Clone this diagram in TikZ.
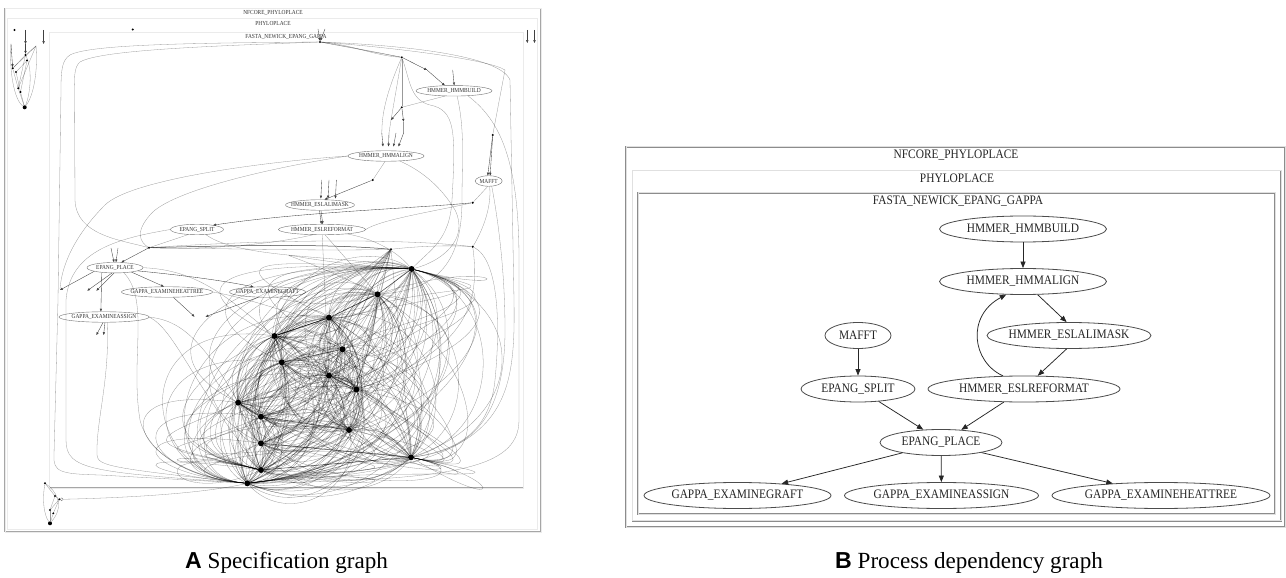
\documentclass[tikz,border=0pt]{standalone}
\usepackage{fontspec}
\setmainfont{Liberation Serif}
\newfontfamily\capsans{Liberation Sans}
\newfontfamily\capserif{Liberation Serif}
\usetikzlibrary{shapes.geometric,arrows.meta}
\newcommand{\nx}[1]{\scalebox{0.88}[1]{#1}}
\begin{document}
\begin{tikzpicture}[x=1bp,y=-1bp,
  frameB/.style={draw=black!45, line width=0.55bp, double=black!12, double distance=0.6bp},
  frameA/.style={draw=black!35, line width=0.45bp, double=black!8, double distance=0.4bp},
  procB/.style={ellipse, draw=black!70, line width=0.8bp, inner sep=0pt, minimum height=26bp, font=\fontsize{13}{15}\selectfont, text=black!85},
  procA/.style={ellipse, draw=black!55, line width=0.4bp, inner ysep=0pt, inner xsep=-5bp, minimum height=10.5bp, font=\fontsize{6.2}{7}\selectfont, text=black!80},
  lblB/.style={font=\fontsize{13}{15}\selectfont, text=black!85, inner sep=0pt},
  lblA/.style={font=\fontsize{6.2}{7}\selectfont, text=black!80, inner sep=0pt},
  arrB/.style={-{Triangle[length=6.5bp,width=5bp]}, line width=0.75bp, draw=black!85},
  arrA/.style={-{Triangle[length=2.8bp,width=2.2bp]}, line width=0.35bp, draw=black!75},
  bigdot/.style={circle, fill=black, inner sep=0pt, minimum size=6bp},
  smdot/.style={circle, fill=black, inner sep=0pt, minimum size=2.2bp},
  wire/.style={line width=0.3bp, draw=black, draw opacity=0.4},
  wireB/.style={line width=0.5bp, draw=black, draw opacity=0.75},
  capfont/.style={font=\fontsize{23.2}{27}\selectfont, inner sep=0pt, anchor=base west},
]
\useasboundingbox (0,0) rectangle (1286,578);
\fill[white] (0,0) rectangle (1286,578);

% ================= PANEL B =================
\draw[frameB] (626,146.7) rectangle (1285,527);
\draw[frameB] (632.5,170.5) rectangle (1281,520.7);
\draw[frameB] (638.3,192.7) rectangle (1275.3,514);
\node[lblB] (bNF) at (956,155.5) {\nx{NFCORE\_PHYLOPLACE}};
\node[lblB] (bPH) at (957,178.5) {\nx{PHYLOPLACE}};
\node[lblB] (bFA) at (958,201.5) {\nx{FASTA\_NEWICK\_EPANG\_GAPPA}};

\node[procB, minimum width=167bp] (hb) at (1023,229) {\nx{HMMER\_HMMBUILD}};
\node[procB, minimum width=167bp] (ha) at (1023,281.5) {\nx{HMMER\_HMMALIGN}};
\node[procB, minimum width=66bp] (mf) at (858,335.5) {\nx{MAFFT}};
\node[procB, minimum width=164bp, inner xsep=-3.5bp] (am) at (1069,335.5) {\nx{HMMER\_ESLALIMASK}};
\node[procB, minimum width=114bp] (sp) at (858,389) {\nx{EPANG\_SPLIT}};
\node[procB, minimum width=192bp] (rf) at (1024,389) {\nx{HMMER\_ESLREFORMAT}};
\node[procB, minimum width=122bp] (pl) at (941,442.5) {\nx{EPANG\_PLACE}};
\node[procB, minimum width=187bp] (gr) at (737.5,495.5) {\nx{GAPPA\_EXAMINEGRAFT}};
\node[procB, minimum width=194bp] (as) at (941.5,495.5) {\nx{GAPPA\_EXAMINEASSIGN}};
\node[procB, minimum width=218bp] (ht) at (1161,495.5) {\nx{GAPPA\_EXAMINEHEATTREE}};

\draw[arrB] (hb) -- (ha);
\draw[arrB] (ha.-42) -- (am.100);
\draw[arrB] (rf.148) .. controls (972,362) and (966,316) .. (ha.-142);
\draw[arrB] (am.-100) -- (rf.44);
\draw[arrB] (mf) -- (sp);
\draw[arrB] (sp.-31) -- (pl.144);
\draw[arrB] (rf.-147) -- (pl.32);
\draw[arrB] (pl.-165) -- (gr.15);
\draw[arrB] (pl) -- (as);
\draw[arrB] (pl.-14) -- (ht.166);

\node[capfont] (capB) at (835,568) {{\capsans\bfseries B}\capserif\mdseries{} Process dependency graph};

% ================= PANEL A =================
\draw[frameA] (5,8.3) rectangle (540.7,531.7);
\draw[frameA] (7.5,18.3) rectangle (537.5,529.3);
\draw[frameA] (49.5,32.3) rectangle (523.5,488);
\node[lblA] (aNF) at (273,13) {\nx{NFCORE\_PHYLOPLACE}};
\node[lblA] (aPH) at (273,23.3) {\nx{PHYLOPLACE}};
\node[lblA] (aFA) at (286,37.3) {\nx{FASTA\_NEWICK\_EPANG\_GAPPA}};

\node[procA, minimum width=76bp] (Ahb) at (454,90.8) {\nx{HMMER\_HMMBUILD}};
\node[procA, minimum width=76bp] (Aha) at (386,156) {\nx{HMMER\_HMMALIGN}};
\node[procA, minimum width=27bp] (Amf) at (488.7,181) {\nx{MAFFT}};
\node[procA, minimum width=69bp] (Aam) at (320,205) {\nx{HMMER\_ESLALIMASK}};
\node[procA, minimum width=53bp] (Asp) at (197,229.5) {\nx{EPANG\_SPLIT}};
\node[procA, minimum width=87bp] (Arf) at (322,229.5) {\nx{HMMER\_ESLREFORMAT}};
\node[procA, minimum width=56bp] (Apl) at (115,267.7) {\nx{EPANG\_PLACE}};
\node[procA, minimum width=91bp] (Aht) at (167,292) {\nx{GAPPA\_EXAMINEHEATTREE}};
\node[procA, minimum width=76bp] (Agr) at (267.5,292) {\nx{GAPPA\_EXAMINEGRAFT}};
\node[procA, minimum width=90bp] (Aas) at (104,317) {\nx{GAPPA\_EXAMINEASSIGN}};

% small points
\node[smdot] (T) at (320,42) {};
\node[smdot] (R1) at (401.8,57.3) {};
\node[smdot] (R2) at (401.8,107.3) {};
\node[smdot] (R3) at (372.7,180) {};
\node[smdot] (R4) at (492.7,135) {};
\node[smdot] (R5) at (472.7,202.7) {};
\node[smdot] (R6) at (472.7,246.7) {};
\node[smdot] (L1) at (149,247.7) {};
\node[smdot] (F) at (391,249.3) {};
\node[smdot] (tdot) at (132.7,29.5) {};
\node[smdot] (tl0) at (14.5,30) {};

% cluster dots
\node[bigdot] (c1) at (411.6,269) {};
\node[bigdot] (c2) at (377.5,294.3) {};
\node[bigdot] (c3) at (329,317.7) {};
\node[bigdot] (c4) at (274.5,336) {};
\node[bigdot] (c5) at (342.5,349.3) {};
\node[bigdot] (c6) at (281.8,362.3) {};
\node[bigdot] (c7) at (329,375.7) {};
\node[bigdot] (c8) at (356.4,389.5) {};
\node[bigdot] (c9) at (238.2,402.7) {};
\node[bigdot] (c10) at (261,416.7) {};
\node[bigdot] (c11) at (349,430) {};
\node[bigdot] (c12) at (261,443.3) {};
\node[bigdot] (c13) at (411,457.3) {};
\node[bigdot] (c14) at (261,470) {};
\node[bigdot] (c15) at (247.3,483.3) {};

% dense tangle
\foreach \i in {1,...,15}{
  \foreach \j in {1,...,15}{
    \ifnum\i<\j
      \draw[wire] (c\i) to[bend left=30] (c\j);
      \draw[wire] (c\i) to[bend right=58] (c\j);
      \ifnum\numexpr\j-\i\relax>3
        \draw[wire] (c\i) to[bend left=75, looseness=1.3] (c\j);
      \fi
    \fi
  }
}
\foreach \i in {1,...,14}{
  \draw[wire] (c\i) .. controls +(-150,-20) and +(-110,-10) .. (c15);
  \draw[wire] (c\i) .. controls +(150,30) and +(170,-20) .. (c15);
  \draw[wire] (c\i) .. controls +(-90,40) and +(-130,-30) .. (c14);
}
\foreach \i in {2,...,13}{
  \draw[wire] (c\i) .. controls +(-120,-60) and +(-160,-10) .. (c1);
  \draw[wire] (c\i) .. controls +(100,60) and +(90,20) .. (c13);
  \draw[wire] (c\i) .. controls +(120,-40) and +(120,30) .. (c1);
}
\foreach \i in {2,...,14}{ \draw[wire] (F) -- (c\i); }
\draw[wireB] (c3) -- (c4); \draw[wireB] (c5) -- (c6); \draw[wireB] (c7) -- (c8); \draw[wireB] (c9) -- (c10);
\draw[wireB] (c1) -- (c2) -- (c3) -- (c4);
\draw[wireB] (c10) -- (c11); \draw[wireB] (c12) -- (c13); \draw[wireB] (c14) -- (c13);

% horizontal trunk at y ~ 248
\draw[wireB] (L1) .. controls (250,245) and (330,244) .. (F);
\draw[wire] (L1) .. controls (250,249) and (330,251) .. (F);
\draw[wire] (F) .. controls (420,246) and (450,245) .. (R6);
\draw[wire] (L1) .. controls (260,240) and (400,238) .. (R6);

% top structure
\draw[wire] (T) -- (R1);
\draw[wire] (T) .. controls (350,47) and (375,52) .. (R1);
\draw[wire] (T) .. controls (350,44) and (375,56) .. (R1);
\coordinate (s427) at (427,70);
\coordinate (s453) at (452.7,70);
\coordinate (s318) at (318,29);
\coordinate (s325) at (325,29);
\draw[arrA] (s318) -- (T);
\draw[arrA] (s325) -- (T);
\draw[arrA] (R1) -- (s427);
\draw[arrA] (s427) -- (Ahb.150);
\draw[arrA] (s453) -- (Ahb.88);
\draw[wire] (R1) -- (R2);
\draw[wire] (Ahb.-150) -- (R2);
\coordinate (s391) at (391,120);
\coordinate (s404) at (403.6,121.7);
\draw[arrA] (R2) -- (s391);
\draw[arrA] (R2) -- (s404);
\draw[wire] (R1) -- (s391);
\draw[wire] (R1) .. controls (383,100) and (382,120) .. (381.8,133);
\coordinate (up1) at (381.8,133); \coordinate (dn1) at (383,146.5);
\coordinate (up2) at (389,133);   \coordinate (dn2) at (388.5,146.5);
\coordinate (up3) at (396,133);   \coordinate (dn3) at (393.5,146.5);
\coordinate (up4) at (403.6,133); \coordinate (dn4) at (398.5,146.5);
\foreach \k in {1,2,3,4}{ \draw[arrA] (up\k) -- (dn\k); }
\draw[wire] (s404) -- (up4);
\draw[wire] (s391) -- (up2);
\draw[wire] (R1) .. controls (410,80) and (410,100) .. (430,105) .. controls (455,110) and (456,130) .. (452,200) .. controls (450,240) and (430,250) .. (c1);
\draw[wire] (Aha.-20) .. controls (420,170) and (440,185) .. (455,210) .. controls (470,240) and (440,262) .. (c1);
\draw[wire] (Ahb.-60) .. controls (465,130) and (462,160) .. (462,200) .. controls (462,260) and (440,290) .. (c2);
\draw[wire] (Aha.-100) -- (R3);
\draw[arrA] (R3) -- (Aam.50);
\coordinate (ua1) at (321.8,180); \coordinate (va1) at (320.8,198.5);
\coordinate (ua2) at (329,180);   \coordinate (va2) at (328,198.5);
\coordinate (ua3) at (336.4,180); \coordinate (va3) at (335.4,198.5);
\foreach \k in {1,2,3}{ \draw[arrA] (ua\k) -- (va\k); }
\draw[arrA] (Aam.-95) -- (Arf.97);
\draw[arrA] (Aam.-80) -- (Arf.82);
% HMMALIGN long curves to left
\draw[wire] (Aha.west) .. controls (260,162) and (130,180) .. (105,205) .. controls (80,230) and (62,260) .. (60,289);
\draw[wire] (Aha.west) .. controls (280,166) and (170,190) .. (150,215) .. controls (135,232) and (140,242) .. (L1);

% right side
\coordinate (rtop) at (505,70);
\draw[wire] (T) .. controls (400,48) and (490,60) .. (rtop) -- (R4);
\draw[wire] (T) .. controls (400,45) and (500,55) .. (510,80) -- (514,300) .. controls (516,420) and (500,470) .. (c15);
\draw[arrA] (R4) -- (Amf.100);
\draw[arrA] (R4) -- (Amf.75);
\draw[wire] (Amf.-100) -- (R5);
\draw[arrA] (R5) .. controls (420,208) and (300,212) .. (Asp.15);
\draw[wire] (R5) .. controls (430,212) and (380,220) .. (Arf.east);
\draw[wire] (Amf.-80) .. controls (492,210) and (480,235) .. (R6);
\draw[wire] (Amf.-60) .. controls (500,230) and (505,280) .. (505,330) .. controls (505,420) and (470,450) .. (c13);
\draw[wire] (R6) .. controls (500,260) and (500,330) .. (495,380) .. controls (490,430) and (460,450) .. (c13);
\draw[wire] (R6) .. controls (480,300) and (470,350) .. (c8);
\draw[wire] (Ahb.-20) .. controls (500,120) and (519,160) .. (519,260) -- (519,420) .. controls (519,470) and (450,480) .. (c15);

% left side loops
\draw[wire] (T) .. controls (200,43) and (90,44) .. (70,55) .. controls (62,60) and (61,70) .. (61,90) -- (58,300) -- (54,455) .. controls (53,472) and (60,474) .. (100,475) -- (c15);
\draw[wire] (T) .. controls (210,46) and (100,50) .. (80,62) .. controls (75,66) and (74,75) .. (74.5,90) -- (75,200) .. controls (76,235) and (120,240) .. (L1);
\draw[wire] (Asp.west) .. controls (120,238) and (70,250) .. (66,300) -- (66,440) .. controls (66,470) and (90,472) .. (c15);
\draw[wire] (Aas.-60) .. controls (110,380) and (96,420) .. (97,455) .. controls (98,466) and (110,468) .. (c15);
\draw[wire] (Aas.east) .. controls (170,320) and (195,325) .. (c9);
\draw[wire] (Aas.east) .. controls (175,330) and (190,380) .. (c14);
\draw[wire] (Apl.east) .. controls (200,270) and (230,300) .. (c4);
\draw[wire] (Apl.-30) .. controls (150,300) and (130,360) .. (140,420) .. controls (150,460) and (200,480) .. (c15);
\draw[wire] (Asp.-30) .. controls (240,260) and (350,255) .. (c1);
\draw[wire] (Arf.-60) -- (c2);
\draw[wire] (Arf.-88) -- (c7);
\draw[wire] (Arf.-10) .. controls (380,240) and (400,255) .. (c1);
\draw[wire] (Arf.-150) .. controls (270,245) and (200,250) .. (L1);
\draw[wire] (Asp.-150) -- (L1);
\draw[wire] (Agr.-30) .. controls (320,310) and (360,300) .. (c2);
\draw[wire] (Aht.east) .. controls (260,300) and (300,320) .. (c3);

% EPANG_PLACE stubs
\coordinate (sA1) at (111,248);
\coordinate (sA2) at (118,248);
\draw[arrA] (L1) -- (Apl.40);
\draw[arrA] (sA1) -- (Apl.100);
\draw[arrA] (sA2) -- (Apl.80);
\coordinate (e1) at (60,290);
\coordinate (e2) at (87.3,290.7);
\coordinate (e3) at (96.4,290.7);
\draw[arrA] (Apl.-170) -- (e1);
\draw[arrA] (Apl.-120) -- (e2);
\draw[arrA] (Apl.-100) -- (e3);
\draw[arrA] (Apl.-160) -- (Aas.120);
\draw[arrA] (Apl.-15) -- (Aht.120);
\draw[arrA] (Apl.-8) .. controls (180,275) and (220,280) .. (Agr.160);
\coordinate (g1) at (194.5,316.7);
\coordinate (g2) at (205.5,316.7);
\draw[arrA] (Aht.-40) -- (g1);
\draw[arrA] (Agr.-150) -- (g2);
\coordinate (h1) at (96.4,335);
\coordinate (h2) at (103.6,335);
\draw[arrA] (Aas.-100) -- (h1);
\draw[arrA] (Aas.-80) -- (h2);

% top-left mini cluster
\node[smdot] (a1) at (25.5,55) {};
\node[smdot] (a2) at (27,60.5) {};
\node[smdot] (a3) at (12.7,68.3) {};
\node[smdot] (a4) at (16,72) {};
\node[smdot] (a5) at (18.2,88.3) {};
\node[smdot] (a6) at (20.5,92) {};
\node[bigdot, minimum size=4bp] (a7) at (24.7,107.3) {};
\coordinate (k1) at (25.5,30);
\coordinate (k1e) at (25.5,44);
\coordinate (k2) at (43.6,30);
\coordinate (k2e) at (43.6,44);
\coordinate (k3) at (11,44);
\coordinate (k4) at (36,46);
\draw[arrA] (k1) -- (k1e);
\draw[arrA] (k2) -- (k2e);
\draw[arrA] (k3) -- (a3);
\draw[arrA] (k1e) -- (a1);
\draw[wire] (k4) -- (a1); \draw[wire] (k4) -- (a3); \draw[wire] (k4) -- (a5); \draw[wire] (k4) .. controls (38,70) and (34,95) .. (a7);
\draw[wire] (a1) -- (a3); \draw[wire] (a2) -- (a4); \draw[wire] (a3) -- (a5); \draw[wire] (a4) -- (a6);
\draw[wire] (a5) -- (a7); \draw[wire] (a6) -- (a7); \draw[wire] (a1) -- (a5); \draw[wire] (a2) -- (a6);
\draw[wire] (k3) .. controls (9,70) and (14,100) .. (a7);
\draw[wire] (a1) .. controls (33,70) and (30,95) .. (a7);
% top-right stubs
\coordinate (q1) at (527.3,30);
\coordinate (q1e) at (527.3,43);
\coordinate (q2) at (534.5,30);
\coordinate (q2e) at (534.5,43);
\draw[arrA] (q1) -- (q1e);
\draw[arrA] (q2) -- (q2e);

% bottom-left mini cluster
\node[smdot] (b1) at (45,483.3) {};
\node[smdot] (b2) at (55,496) {};
\node[smdot] (b3) at (59.3,499.3) {};
\node[circle, draw=black!60, line width=0.3bp, inner sep=0pt, minimum size=3bp] (b3c) at (61.7,499.3) {};
\node[smdot] (b4) at (50,510) {};
\node[smdot] (b5) at (53.3,513.3) {};
\node[bigdot, minimum size=4bp] (b6) at (50,523.3) {};
\draw[wire] (b1) .. controls (42,500) and (44,515) .. (b6);
\draw[wire] (b1) .. controls (55,490) and (66,505) .. (b6);
\draw[wire] (b1) -- (b2); \draw[wire] (b2) -- (b4); \draw[wire] (b3) -- (b5);
\draw[wire] (b4) -- (b6); \draw[wire] (b5) -- (b6); \draw[wire] (b2) -- (b3); \draw[wire] (b3) -- (b4);
\draw[wire] (b3c) .. controls (120,498) and (200,494) .. (c15);

\node[capfont] (capA) at (185,568) {{\capsans\bfseries A}\capserif\mdseries{} Specification graph};
\end{tikzpicture}
\end{document}
